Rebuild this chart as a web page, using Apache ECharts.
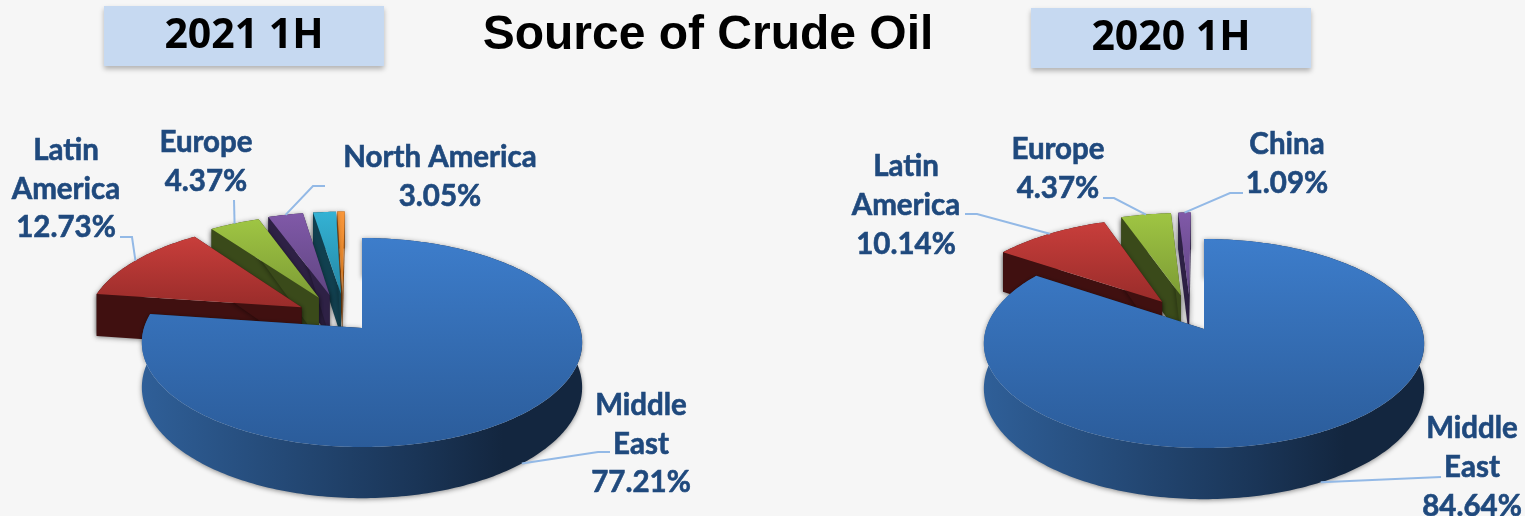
<!DOCTYPE html>
<html>
<head>
<meta charset="utf-8">
<style>html,body{margin:0;padding:0;background:#f6f6f6}#c{width:1525px;height:516px}</style>
<script src="https://cdn.jsdelivr.net/npm/echarts@6/dist/echarts.min.js"></script>
</head>
<body>
<div id="c"></div>
<script>
// ---- data ----
const title = 'Source of Crude Oil';
const periods = ['2021 1H', '2020 1H'];
const sources2021 = ['Middle\nEast', 'Latin\nAmerica', 'Europe', 'North America', 'Other A', 'Other B'];
const values2021 = [77.21, 12.73, 4.37, 3.05, 1.99, 0.65];
const sources2020 = ['Middle\nEast', 'Latin\nAmerica', 'Europe', 'China'];
const values2020 = [84.64, 10.14, 4.37, 1.09];

// ---- look ----
const faces = [['#3d7dcb','#2b5c9a'],['#c83e3b','#992c2a'],['#9fc543','#7d9c35'],['#8059a8','#604582'],['#34b2d4','#2488a6'],['#f9973a','#e07f22']];
const walls = ['#12263f','#401010','#3a4a1a','#2e2145','#11404f','#8a4a10'];
const blueWall = ['#2f5f98','#1a3557','#13263f'];
const K = 0.139, RU = 218, RV = 102.5, DEPTH = 44, EXPLODE = 0.35;

function pie(key, cx, cy, values, names, driftU, driftV, labels) {
  const total = values.reduce((a, b) => a + b, 0);
  const start = [];
  values.reduce((a, v, i) => (start[i] = a, a + v), 0);
  const rad = d => d * Math.PI / 180;
  const proj = (u, v) => { const w = 1 + K * v; return [cx + RU * u / w, cy - RV * v / w, w]; };
  const down = p => [p[0], p[1] + DEPTH / p[2]];
  return {
    type: 'custom', name: key, coordinateSystem: 'none', silent: true,
    // painted back to front: the last slice first, the largest one on top
    data: values.map((v, i) => [v, i]).reverse(),
    renderItem: function (params, api) {
      const i = api.value(1), val = api.value(0);
      const a0 = start[i] / total * 360, a1 = (start[i] + val) / total * 360, mid = rad((a0 + a1) / 2);
      const e = i === 0 ? 0 : EXPLODE;
      const du = e * Math.sin(mid) + driftU[i], dv = e * Math.cos(mid) + driftV[i];
      const rim = [];
      const n = Math.max(2, Math.ceil(a1 - a0));
      for (let k = 0; k <= n; k++) {
        const t = rad(a0 + (a1 - a0) * k / n);
        rim.push(proj(du + Math.sin(t), dv + Math.cos(t)));
      }
      const apex = proj(du, dv);
      const clean = p => [p[0], p[1]];
      const shadow = { shadowBlur: 5, shadowColor: 'rgba(0,0,0,0.45)', shadowOffsetY: 1 };
      const solid = walls[i];
      const outerFill = i === 0
        ? new echarts.graphic.LinearGradient(0, 0, 1, 0, [{offset:0,color:blueWall[0]},{offset:0.62,color:blueWall[1]},{offset:0.82,color:blueWall[2]},{offset:1,color:blueWall[2]}])
        : solid;
      const kids = [];
      kids.push({ type:'polygon', shape:{points:rim.map(clean).concat(rim.map(down).reverse())}, style:Object.assign({fill:outerFill}, shadow) });
      [rim[0], rim[rim.length-1]].forEach(p => kids.push({
        type:'polygon', shape:{points:[clean(apex), clean(p), down(p), down(apex)]}, style:Object.assign({fill:solid}, shadow)
      }));
      kids.push({
        type:'polygon', shape:{points:[clean(apex)].concat(rim.map(clean))},
        style:{ fill:new echarts.graphic.LinearGradient(0,0,0,1,[{offset:0,color:faces[i][0]},{offset:1,color:faces[i][1]}]) }
      });
      const lab = labels[i];
      if (lab) {
        const m = proj(du + Math.sin(mid), dv + Math.cos(mid));
        const from = i === 0 ? down(m) : clean(m);
        kids.push({ type:'polyline', shape:{points:[from].concat(lab.line)}, style:{stroke:'#93b9e6', lineWidth:2, fill:null} });
        kids.push({ type:'text', style:{
          x:lab.x, y:lab.y, text:names[i] + '\n' + val.toFixed(2) + '%',
          fill:'#1f497d', stroke:'#1f497d', lineWidth:0.6, font:'bold 29.5px Lato', textAlign:'center', textVerticalAlign:'middle', lineHeight:lab.lh || 38.5
        }});
      }
      return { type:'group', children:kids };
    }
  };
}

const labels2021 = [
  {x:641, y:444, line:[[598,452],[610,452]]},
  {x:66, y:189, line:[[132,237],[120,237]]},
  {x:206, y:162, line:[[234,200]]},
  {x:440, y:177, line:[[313,186],[325,186]]}
];
const labels2020 = [
  {x:1472, y:467, line:[[1441,477]], lh:39},
  {x:906, y:205, line:[[977,214],[965,214]], lh:39},
  {x:1058, y:169, line:[[1114,198],[1103,198]]},
  {x:1287, y:164, line:[[1230,193],[1243,193]]}
];

function header(text, x, y) {
  return {
    type:'rect', left:x, top:y, shape:{width:280,height:60},
    style:{fill:'#c6d9f1', shadowBlur:5, shadowOffsetY:3, shadowColor:'rgba(0,0,0,0.28)'},
    textContent:{ style:{ text:text, fill:'#000', font:'bold 41px "Open Sans"' } },
    textConfig:{ position:'inside' }
  };
}

const chart = echarts.init(document.getElementById('c'), null, {renderer:'canvas'});
chart.setOption({
  animation:false,
  backgroundColor:'#f6f6f6',
  title:{ text:title, left:703, top:7, textAlign:'center', textStyle:{ color:'#000', fontFamily:'"Liberation Sans"', fontWeight:'bold', fontSize:48 } },
  graphic:[ header(periods[0],104,6), header(periods[1],1031,8) ],
  series:[
    pie(periods[0], 362, 328, values2021, sources2021, [0,0.015,-0.04,-0.065,-0.065,-0.087], [0,0.03,0,0,0,0], labels2021),
    pie(periods[1], 1204, 329, values2020, sources2020, [0,0.015,-0.04,-0.06], [0,0,0,0], labels2020)
  ]
});
</script>
</body>
</html>
